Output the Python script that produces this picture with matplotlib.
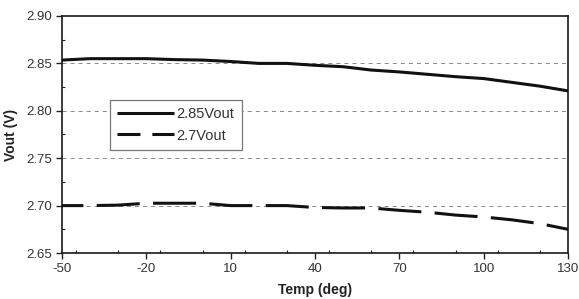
import numpy as np
import matplotlib
matplotlib.use("Agg")
import matplotlib.pyplot as plt
from matplotlib.lines import Line2D
from matplotlib.ticker import MultipleLocator

plt.rcParams["font.family"] = ["Liberation Sans", "DejaVu Sans"]
plt.rcParams["lines.scale_dashes"] = False
plt.rcParams["axes.unicode_minus"] = False

# ── data
temp = [-50, -40, -30, -20, -10, 0, 10, 20, 30, 40, 50, 60, 70, 80, 90, 100, 110, 120, 130]
vout_285 = [2.8535, 2.855, 2.855, 2.855, 2.854, 2.8535, 2.852, 2.850, 2.850, 2.848,
            2.8465, 2.843, 2.841, 2.8385, 2.836, 2.834, 2.830, 2.826, 2.821]
vout_27 = [2.700, 2.700, 2.7005, 2.7025, 2.7025, 2.7025, 2.700, 2.700, 2.700, 2.698,
           2.6975, 2.6975, 2.695, 2.693, 2.690, 2.688, 2.685, 2.681, 2.675]
labels = ["2.85Vout", "2.7Vout"]
x_ticks = [-50, -20, 10, 40, 70, 100, 130]
y_ticks = [2.65, 2.70, 2.75, 2.80, 2.85, 2.90]

TXT = "#333333"

fig = plt.figure(figsize=(5.79, 2.99), dpi=100)
ax = fig.add_axes([62 / 579, 1 - 253 / 299, 506 / 579, 237 / 299])

# grid behind the data
for yv in y_ticks[1:-1]:
    ax.axhline(yv, color="#8a8a8a", lw=0.7, linestyle=(0, (2.9, 2.9)), zorder=1)

ax.plot(temp, vout_285, color="#111111", lw=2.2, solid_capstyle="butt", zorder=3)
ax.plot(temp, vout_27, color="#111111", lw=2.2, linestyle=(15.6, (31, 9.6)),
        dash_capstyle="butt", zorder=3)

ax.set_xlim(-50, 130)
ax.set_ylim(2.65, 2.90)
ax.set_xticks(x_ticks)
ax.set_yticks(y_ticks)
ax.yaxis.set_major_formatter(plt.FormatStrFormatter("%.2f"))
ax.xaxis.set_minor_locator(MultipleLocator(15))
ax.yaxis.set_minor_locator(MultipleLocator(0.025))
ax.tick_params(axis="both", which="major", direction="out", length=4, width=1,
               color="#222222", labelsize=9.5, labelcolor=TXT, pad=3)
ax.tick_params(axis="both", which="minor", direction="in", length=2, width=0.8,
               color="#222222")
for s in ax.spines.values():
    s.set_linewidth(1.2)
    s.set_color("#1a1a1a")

ax.set_xlabel("Temp (deg)", fontsize=10, fontweight="bold", color="#222222")
ax.set_ylabel("Vout (V)", fontsize=10, fontweight="bold", color="#222222")
ax.xaxis.set_label_coords(0.5, -0.125)
ax.yaxis.set_label_coords(-0.086, 0.5)

handles = [
    Line2D([], [], color="#111111", lw=2.2, solid_capstyle="butt"),
    Line2D([], [], color="#111111", lw=2.2, linestyle=(0, (16.5, 8.6)), dash_capstyle="butt"),
]
leg = ax.legend(handles, labels, loc="upper left", bbox_to_anchor=(48 / 506, (253 - 100) / 237),
                fontsize=10.5, handlelength=3.9, handletextpad=0.15, labelspacing=0.5,
                borderpad=0.5, borderaxespad=0, frameon=True, fancybox=False,
                edgecolor="#777777", framealpha=1)
leg.get_frame().set_linewidth(0.9)
for t in leg.get_texts():
    t.set_color(TXT)

fig.savefig("out.png", dpi=100)
